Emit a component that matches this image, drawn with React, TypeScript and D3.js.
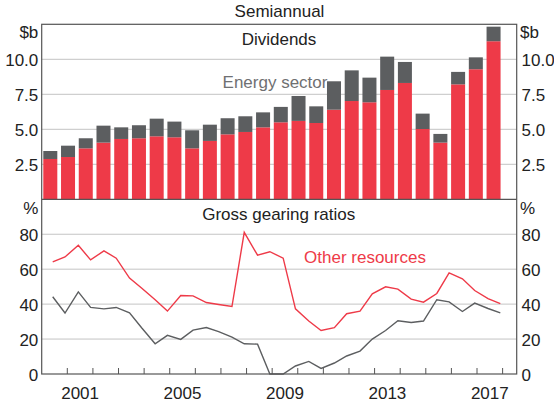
import * as d3 from "d3";

// semiannual dividends, $b (26 half-years)
const periods = [
  "2005H1", "2005H2", "2006H1", "2006H2", "2007H1", "2007H2", "2008H1", "2008H2",
  "2009H1", "2009H2", "2010H1", "2010H2", "2011H1", "2011H2", "2012H1", "2012H2",
  "2013H1", "2013H2", "2014H1", "2014H2", "2015H1", "2015H2", "2016H1", "2016H2",
  "2017H1", "2017H2",
];
const otherDividends = [
  2.88, 3.02, 3.64, 4.05, 4.31, 4.36, 4.5, 4.43, 3.64, 4.17, 4.64, 4.81, 5.14,
  5.5, 5.6, 5.45, 6.4, 7.02, 6.93, 7.81, 8.31, 5.02, 4.05, 8.21, 9.29, 11.29,
];
const energyDividends = [
  0.57, 0.81, 0.72, 1.21, 0.83, 0.93, 1.26, 1.12, 1.29, 1.16, 1.15, 1.12, 1.07,
  1.1, 1.78, 1.19, 2.03, 2.19, 1.76, 2.38, 1.5, 1.1, 0.62, 0.89, 0.85, 1.04,
];

// gross gearing ratios, %, semiannual 2000 H1 .. 2017 H2
const gearingYears = d3.range(2000, 2018);
const otherGearing = [
  64.2, 67, 73.7, 65.3, 70.5, 66.3, 54.9, 49.1, 42.5, 36, 44.9, 44.7, 40.9, 39.8,
  38.6, 81.1, 68, 70, 66.3, 37.3, 30.3, 24.9, 26.5, 34.5, 36, 45.9, 49.9, 48.6,
  42.9, 41.1, 46.1, 57.9, 54.5, 47.8, 43.2, 40.3,
];
const energyGearing = [
  44.2, 34.9, 47, 38.1, 37.3, 38.1, 35, 26.3, 17.3, 22.1, 19.8, 25.1, 26.6, 24.3,
  21.1, 17.3, 17.1, 0, 0, 4.6, 7.2, 3.2, 6.3, 10.3, 13.1, 20, 24.9, 30.5, 29.5,
  30.3, 42.5, 41.3, 35.8, 40.6, 37.5, 35,
];

const divTicks = [2.5, 5, 7.5, 10];
const gearTicks = [0, 20, 40, 60, 80];
const yearLabels = [2001, 2005, 2009, 2013, 2017];

const RED = "#ee3a48";
const GREY = "#5c5e60";
const FONT = "Liberation Sans, Arial, sans-serif";

export default function App() {
  const W = 554;
  const H = 404;
  const left = 41.7;
  const right = 516.7;
  const top = 24.3;
  const mid = 199.3;
  const bottom = 374;

  const xBand = d3
    .scaleBand()
    .domain(periods)
    .range([left, right])
    .paddingInner(0.21)
    .paddingOuter(0.5)
    .align(0.09);
  const yDiv = d3.scaleLinear().domain([0, 12.5]).range([mid, top]);

  const xTime = d3.scaleLinear().domain([2000, 2018.55]).range([left, right]);
  const yGear = d3.scaleLinear().domain([0, 100]).range([bottom, mid]);

  // H1 / H2 observations sit a little before mid-year and year-end
  const halfX = (i: number) =>
    xTime(gearingYears[Math.floor(i / 2)] + (i % 2 === 0 ? 0.43 : 0.91));

  const line = d3
    .line<number>()
    .x((_, i) => halfX(i))
    .y((d) => yGear(d));

  const yearTicks = d3.range(2001, 2019);

  return (
    <svg
      width={W}
      height={H}
      style={{ position: "absolute", left: 0, top: 0, background: "#fff" }}
      fontFamily={FONT}
      fontSize={17}
      fill="#222"
    >
      <text x={279.5} y={16.7} textAnchor="middle">Semiannual</text>

      {/* grids */}
      {divTicks.map((t) => (
        <line key={"gd" + t} x1={left} x2={right} y1={yDiv(t)} y2={yDiv(t)} stroke="#c4c4c4" />
      ))}
      {gearTicks.slice(1).map((t) => (
        <line key={"gg" + t} x1={left} x2={right} y1={yGear(t)} y2={yGear(t)} stroke="#c4c4c4" />
      ))}

      <text x={275} y={88.3} textAnchor="middle" fill="#6f7072">Energy sector</text>

      {/* bars */}
      {periods.map((p, i) => {
        const total = otherDividends[i] + energyDividends[i];
        return (
          <g key={p}>
            <rect
              x={xBand(p)}
              width={xBand.bandwidth()}
              y={yDiv(otherDividends[i])}
              height={yDiv(0) - yDiv(otherDividends[i])}
              fill={RED}
            />
            <rect
              x={xBand(p)}
              width={xBand.bandwidth()}
              y={yDiv(total)}
              height={yDiv(otherDividends[i]) - yDiv(total)}
              fill={GREY}
            />
          </g>
        );
      })}

      {/* lines */}
      <path d={line(otherGearing) ?? ""} fill="none" stroke={RED} strokeWidth={1.4} />
      <path d={line(energyGearing) ?? ""} fill="none" stroke={GREY} strokeWidth={1.4} />

      {/* frame */}
      <rect x={left} y={top} width={right - left} height={bottom - top} fill="none" stroke="#555" strokeWidth={1.2} />
      <line x1={left} x2={right} y1={mid} y2={mid} stroke="#555" strokeWidth={1.2} />

      {/* x ticks */}
      {yearTicks.map((yr) => (
        <line key={yr} x1={xTime(yr)} x2={xTime(yr)} y1={bottom} y2={bottom - 6} stroke="#555" />
      ))}
      {yearLabels.map((yr) => (
        <text key={yr} x={xTime(yr + 0.5)} y={bottom + 25} textAnchor="middle">
          {yr}
        </text>
      ))}

      {/* y labels */}
      <text x={38.3} y={38} textAnchor="end">$b</text>
      <text x={520} y={38}>$b</text>
      {divTicks.map((t) => (
        <g key={"ld" + t}>
          <text x={38.3} y={yDiv(t)} dy="0.4em" textAnchor="end">{t.toFixed(1)}</text>
          <text x={521.5} y={yDiv(t)} dy="0.4em">{t.toFixed(1)}</text>
        </g>
      ))}
      <text x={38.3} y={214} textAnchor="end">%</text>
      <text x={520} y={214}>%</text>
      {gearTicks.map((t) => (
        <g key={"lg" + t}>
          <text x={38.3} y={yGear(t)} dy="0.4em" textAnchor="end">{t}</text>
          <text x={521.5} y={yGear(t)} dy="0.4em">{t}</text>
        </g>
      ))}

      {/* panel titles and labels */}
      <text x={279} y={45} textAnchor="middle">Dividends</text>
      <text x={278.7} y={220} textAnchor="middle">Gross gearing ratios</text>
      <text x={365} y={263.3} textAnchor="middle" fill={RED}>Other resources</text>
    </svg>
  );
}
